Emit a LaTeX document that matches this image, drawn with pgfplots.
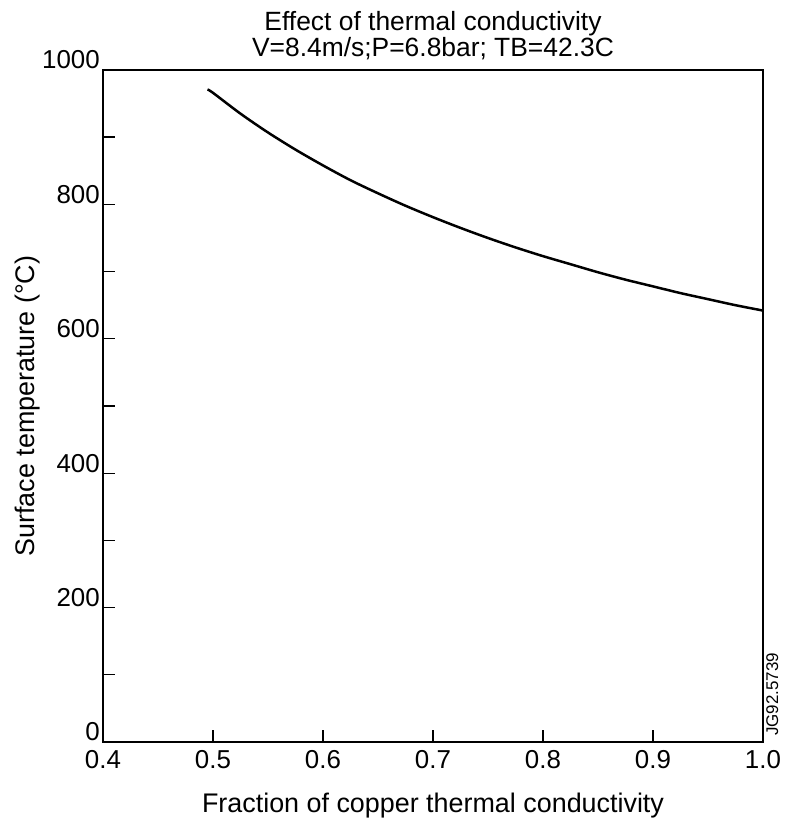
\documentclass[border=0pt]{standalone}
\usepackage{fontspec}
\setmainfont{Liberation Sans}
\usepackage{pgfplots}
\pgfplotsset{compat=1.18}
\begin{document}
\begin{tikzpicture}
\path (-103bp,-83bp) rectangle (683bp,742bp);
\begin{axis}[
  at={(0,0)}, anchor=south west,
  scale only axis, width=660bp, height=672bp,
  xmin=0.4, xmax=1.0, ymin=0, ymax=1000,
  axis line style={line width=1.6pt},
  tick style={line width=1.4pt, black},
  tick align=inside,
  tick pos=left,
  major tick length=12bp, minor tick length=12bp,
  xtick={0.4,0.5,0.6,0.7,0.8,0.9,1.0},
  xticklabels={0.4,0.5,0.6,0.7,0.8,0.9,1.0},
  ytick={0,200,400,600,800,1000},
  yticklabels={0,200,400,600,800,1000},
  minor ytick={100,300,500,700,900},
  /pgf/number format/assume math mode=true,
  ticklabel style={font=\fontsize{26}{28}\selectfont},
  xticklabel style={inner sep=0bp, yshift=-8bp},
  yticklabel style={inner sep=0bp, yshift=10bp, xshift=-3bp},
  title={Effect of thermal conductivity\\V=8.4m/s;P=6.8bar; TB=42.3C},
  title style={align=center, font=\fontsize{26.5}{26.5}\selectfont, inner sep=2bp, yshift=2bp},
  xlabel={Fraction of copper thermal conductivity},
  ylabel={Surface temperature (°C)},
  label style={font=\fontsize{27}{29}\selectfont},
  xlabel style={yshift=-21bp},
  ylabel style={yshift=-1bp},
  clip=false,
]
\addplot[black, line width=2.5pt, smooth] coordinates {
  (0.495,971) (0.5,966) (0.525,935) (0.55,907) (0.575,881.5) (0.6,858)
  (0.625,836) (0.65,816.5) (0.675,798) (0.7,781) (0.725,765) (0.75,750)
  (0.775,736) (0.8,723) (0.825,711) (0.85,699) (0.875,688) (0.9,678)
  (0.925,668) (0.95,659) (0.975,650) (1.0,642)
};
\node[rotate=90, anchor=north west, inner sep=0bp, xshift=6bp, yshift=-3bp,
      font=\fontsize{17}{18}\selectfont] at (rel axis cs:1,0) {JG92.5739};
\end{axis}
\end{tikzpicture}
\end{document}
